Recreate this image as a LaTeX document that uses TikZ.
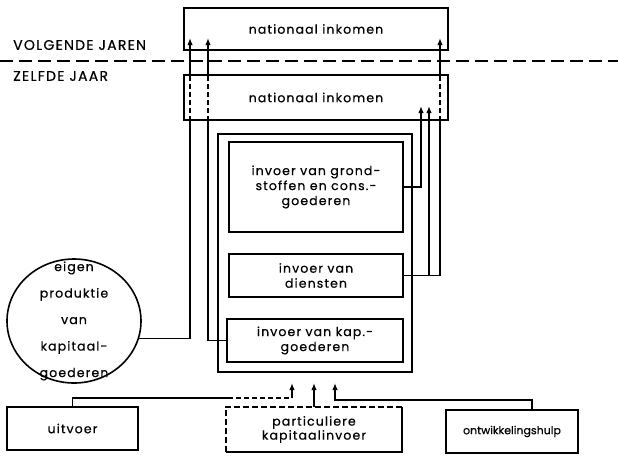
\documentclass[tikz,border=0pt]{standalone}
\usepackage{fontspec}
\setmainfont{Poppins}[LetterSpace=9,FakeBold=0.6]
\usetikzlibrary{arrows.meta,shapes.geometric}
\begin{document}
\begin{tikzpicture}[x=1pt,y=-1pt,
  every node/.style={font=\fontsize{12.5}{15}\selectfont},
  box/.style={draw,line width=1.6pt,rectangle,inner sep=0pt,align=center},
  conn/.style={line width=1.5pt},
  arr/.style={conn,-{Latex[length=7pt,width=5.5pt]}},
  dsh/.style={conn,dash pattern=on 5pt off 3pt},
  yearlabel/.style={font=\fontsize{14}{16}\selectfont,anchor=west,inner sep=0pt}]
\useasboundingbox (0,0) rectangle (618,456);
% year labels and divider
\node[yearlabel] (vj) at (13,45) {VOLGENDE JAREN};
\node[yearlabel] (zj) at (13,76) {ZELFDE JAAR};
\coordinate (dl) at (0,61);
\coordinate (dr) at (618,61);
\draw[line width=1.7pt,dash pattern=on 13pt off 6pt] (dl) -- (dr);
% boxes
\node[box,minimum width=264pt,minimum height=42pt] (top) at (316,29) {nationaal inkomen};
\node[box,minimum width=264pt,minimum height=45pt] (ni) at (316,97.5) {nationaal inkomen};
\node[box,minimum width=194pt,minimum height=238pt] (frame) at (315,253) {};
\node[box,minimum width=174pt,minimum height=90pt] (grond) at (316,187) {invoer van grond-\\stoffen en cons.-\\goederen};
\node[box,minimum width=174pt,minimum height=43pt] (dienst) at (316,275.5) {invoer van\\diensten};
\node[box,minimum width=176pt,minimum height=43pt] (kap) at (315,340.5) {invoer van kap.-\\goederen};
\node[draw,line width=1.6pt,ellipse,minimum width=134pt,minimum height=124pt,inner sep=0pt] (circ) at (74,321) {};
\node[inner sep=0pt,align=center,font=\fontsize{12.5}{26.5}\selectfont] (circtext) at (circ.center) {eigen\\produktie\\van\\kapitaal-\\goederen};
\node[box,minimum width=131pt,minimum height=43pt] (uit) at (72.5,428.5) {uitvoer};
\node[rectangle,inner sep=0pt,align=center,minimum width=176pt,minimum height=45pt,
  font=\fontsize{12.5}{14}\selectfont] (part) at (314,429.5) {particuliere\\kapitaalinvoer};
\draw[line width=1.6pt,dash pattern=on 6pt off 3pt] (part.south west) -- (part.north west) -- (part.north east);
\draw[line width=1.6pt] (part.north east) -- (part.south east) -- (part.south west);
\node[box,minimum width=132pt,minimum height=43pt,font=\fontsize{11}{14}\selectfont\addfontfeature{LetterSpace=0}] (ontw) at (512,431.5) {ontwikkelingshulp};
% arrow tips
\coordinate (a1) at (190,38);
\coordinate (a2) at (208,38);
\coordinate (a3) at (440,38);
\coordinate (b1) at (429,106);
\coordinate (b2) at (421,106);
% capital goods to next years
\draw[conn] (circ.-15) -| (ni.south -| a1);
\draw[dsh] (ni.south -| a1) -- (ni.north -| a1);
\draw[arr] (ni.north -| a1) -- (a1);
\draw[conn] (kap.west) -| (ni.south -| a2);
\draw[dsh] (ni.south -| a2) -- (ni.north -| a2);
\draw[arr] (ni.north -| a2) -- (a2);
\draw[conn] (dienst.east) -| (ni.south -| a3);
\draw[dsh] (ni.south -| a3) -- (ni.north -| a3);
\draw[arr] (ni.north -| a3) -- (a3);
\draw[arr] (dienst.east -| b1) -- (b1);
\draw[arr] (grond.east) -| (b2);
% financing arrows
\coordinate (t1) at (292,383);
\coordinate (t3) at (335,383);
\coordinate (k1) at (228,398);
\coordinate (k4) at (532,400);
\draw[conn] (uit.north) |- (k1);
\draw[dsh] (k1) -- (k1 -| t1);
\draw[arr] (k1 -| t1) -- (t1);
\draw[arr] (part.north) -- (part.north |- t1);
\draw[arr] (ontw.north -| k4) -- (k4) -| (t3);
\end{tikzpicture}
\end{document}
